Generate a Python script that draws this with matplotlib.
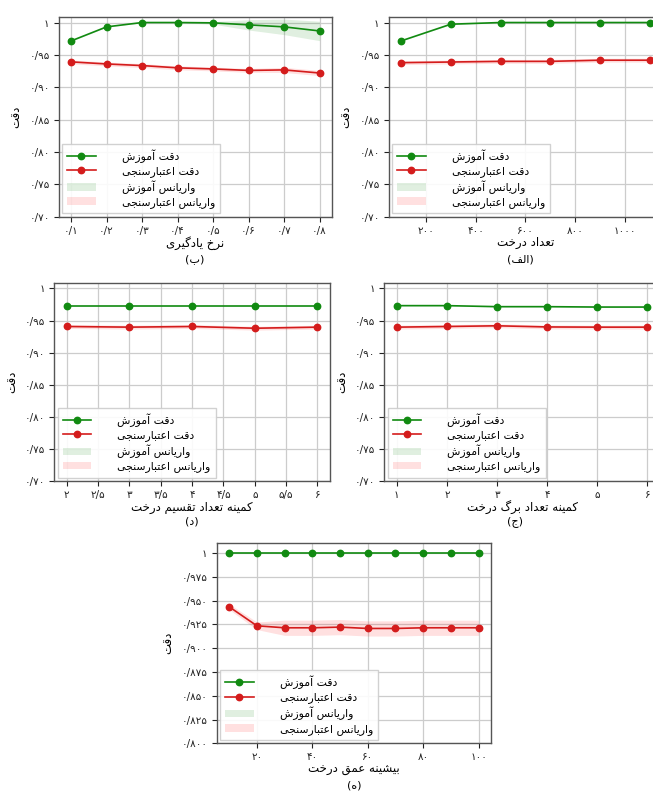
import matplotlib
matplotlib.use("Agg")
import matplotlib.pyplot as plt
from matplotlib.ticker import FixedLocator, FuncFormatter
from matplotlib.patches import Patch
from matplotlib.lines import Line2D

# ---------------- data ----------------
# (ب) learning rate
lr_x = [0.1, 0.2, 0.3, 0.4, 0.5, 0.6, 0.7, 0.8]
lr_train = [0.9716, 0.9933, 1.0, 1.0, 0.9995, 0.9964, 0.9933, 0.987]
lr_train_std = [0.0005, 0.0005, 0.0002, 0.0002, 0.002, 0.008, 0.012, 0.015]
lr_val = [0.9392, 0.936, 0.9335, 0.930, 0.9283, 0.926, 0.9268, 0.922]
lr_val_std = [0.003, 0.003, 0.003, 0.003, 0.003, 0.003, 0.004, 0.004]
lr_xticks = [0.1, 0.2, 0.3, 0.4, 0.5, 0.6, 0.7, 0.8]
lr_xticklabels = ["۰/۱", "۰/۲", "۰/۳", "۰/۴", "۰/۵", "۰/۶", "۰/۷", "۰/۸"]

# (الف) number of trees
nt_x = [100, 300, 500, 700, 900, 1100]
nt_train = [0.9716, 0.9974, 1.0, 1.0, 1.0, 1.0]
nt_train_std = [0.0005, 0.0005, 0.0002, 0.0002, 0.0002, 0.0002]
nt_val = [0.938, 0.939, 0.940, 0.940, 0.9418, 0.9418]
nt_val_std = [0.003, 0.003, 0.003, 0.003, 0.003, 0.003]
nt_xticks = [200, 400, 600, 800, 1000]
nt_xticklabels = ["۲۰۰", "۴۰۰", "۶۰۰", "۸۰۰", "۱۰۰۰"]

# (د) min samples split
ms_x = [2, 3, 4, 5, 6]
ms_train = [0.9727, 0.9727, 0.9727, 0.9727, 0.9727]
ms_train_std = [0.0005, 0.0005, 0.0005, 0.0005, 0.0005]
ms_val = [0.9407, 0.9397, 0.9407, 0.938, 0.9397]
ms_val_std = [0.003, 0.003, 0.003, 0.003, 0.003]
ms_xticks = [2, 2.5, 3, 3.5, 4, 4.5, 5, 5.5, 6]
ms_xticklabels = ["۲", "۲/۵", "۳", "۳/۵", "۴", "۴/۵", "۵", "۵/۵", "۶"]

# (ج) min samples leaf
ml_x = [1, 2, 3, 4, 5, 6]
ml_train = [0.9732, 0.9732, 0.9716, 0.9716, 0.971, 0.971]
ml_train_std = [0.0005, 0.0005, 0.0005, 0.0005, 0.0005, 0.0005]
ml_val = [0.9397, 0.9407, 0.9418, 0.940, 0.9397, 0.9397]
ml_val_std = [0.003, 0.003, 0.003, 0.003, 0.003, 0.003]
ml_xticks = [1, 2, 3, 4, 5, 6]
ml_xticklabels = ["۱", "۲", "۳", "۴", "۵", "۶"]

# (ه) max depth
md_x = [10, 20, 30, 40, 50, 60, 70, 80, 90, 100]
md_train = [1.0, 1.0, 1.0, 1.0, 1.0, 1.0, 1.0, 1.0, 1.0, 1.0]
md_train_std = [0.0002] * 10
md_val = [0.9436, 0.9236, 0.9215, 0.9215, 0.9222, 0.9208, 0.9208, 0.9215, 0.9215, 0.9215]
md_val_std = [0.003, 0.004, 0.008, 0.008, 0.008, 0.008, 0.008, 0.008, 0.008, 0.008]
md_xticks = [20, 40, 60, 80, 100]
md_xticklabels = ["۲۰", "۴۰", "۶۰", "۸۰", "۱۰۰"]

# texts
ylabel_text = "دقت"
legend_labels = ["دقت آموزش", "دقت اعتبارسنجی", "واریانس آموزش", "واریانس اعتبارسنجی"]
xlabels = {
    "lr": "نرخ یادگیری",
    "nt": "تعداد درخت",
    "ms": "کمینه تعداد تقسیم درخت",
    "ml": "کمینه تعداد برگ درخت",
    "md": "بیشینه عمق درخت",
}
captions = {"lr": "ب", "nt": "الف", "ms": "د", "ml": "ج", "md": "ه"}

# ---------------- Arabic-script shaping (presentation forms) ----------------
FORMS = {  # isolated, final, initial, medial
    "\u0627": ("\uFE8D", "\uFE8E", None, None),
    "\u0622": ("\uFE81", "\uFE82", None, None),
    "\u0628": ("\uFE8F", "\uFE90", "\uFE91", "\uFE92"),
    "\u062A": ("\uFE95", "\uFE96", "\uFE97", "\uFE98"),
    "\u062C": ("\uFE9D", "\uFE9E", "\uFE9F", "\uFEA0"),
    "\u062E": ("\uFEA5", "\uFEA6", "\uFEA7", "\uFEA8"),
    "\u062F": ("\uFEA9", "\uFEAA", None, None),
    "\u0631": ("\uFEAD", "\uFEAE", None, None),
    "\u0632": ("\uFEAF", "\uFEB0", None, None),
    "\u0633": ("\uFEB1", "\uFEB2", "\uFEB3", "\uFEB4"),
    "\u0634": ("\uFEB5", "\uFEB6", "\uFEB7", "\uFEB8"),
    "\u0639": ("\uFEC9", "\uFECA", "\uFECB", "\uFECC"),
    "\u0641": ("\uFED1", "\uFED2", "\uFED3", "\uFED4"),
    "\u0642": ("\uFED5", "\uFED6", "\uFED7", "\uFED8"),
    "\u0644": ("\uFEDD", "\uFEDE", "\uFEDF", "\uFEE0"),
    "\u0645": ("\uFEE1", "\uFEE2", "\uFEE3", "\uFEE4"),
    "\u0646": ("\uFEE5", "\uFEE6", "\uFEE7", "\uFEE8"),
    "\u0647": ("\uFEE9", "\uFEEA", "\uFEEB", "\uFEEC"),
    "\u0648": ("\uFEED", "\uFEEE", None, None),
    "\u06CC": ("\uFBFC", "\uFBFD", "\uFBFE", "\uFBFF"),
    "\u06A9": ("\uFB8E", "\uFB8F", "\uFB90", "\uFB91"),
    "\u06AF": ("\uFB92", "\uFB93", "\uFB94", "\uFB95"),
}


def dual(c):
    return c in FORMS and FORMS[c][2] is not None


def joins(c):
    return c in FORMS


def shape(text):
    out = []
    n = len(text)
    for i, c in enumerate(text):
        if c not in FORMS:
            out.append(c)
            continue
        prev_c = text[i - 1] if i > 0 else ""
        next_c = text[i + 1] if i + 1 < n else ""
        jp = dual(prev_c)
        jn = dual(c) and joins(next_c)
        iso, fin, ini, med = FORMS[c]
        if jp and jn:
            out.append(med)
        elif jp:
            out.append(fin)
        elif jn:
            out.append(ini)
        else:
            out.append(iso)
    return "".join(reversed(out))


def fa_num(v, nd):
    digits = "۰۱۲۳۴۵۶۷۸۹"
    if abs(v - 1.0) < 1e-9:
        return "۱"
    s = f"{v:.{nd}f}".replace(".", "/")
    return "".join(digits[int(ch)] if ch.isdigit() else ch for ch in s)


# ---------------- figure ----------------
plt.rcParams["font.family"] = ["DejaVu Sans"]
fig = plt.figure(figsize=(6.53, 7.92), dpi=100)
W, H = 653.0, 792.0


def add_axes(left, top, right, bottom):
    return fig.add_axes([left / W, 1 - bottom / H, (right - left) / W, (bottom - top) / H])


GREEN = "#118a11"
RED = "#d41c1c"
SPINE = "#555555"
MS = 4.6


def panel(ax, x, tr, trs, va, vas, xticks, xticklabels, yticks, ynd, ylim, key):
    tr_lo = [m - s for m, s in zip(tr, trs)]
    tr_hi = [m + s for m, s in zip(tr, trs)]
    va_lo = [m - s for m, s in zip(va, vas)]
    va_hi = [m + s for m, s in zip(va, vas)]
    ax.fill_between(x, tr_lo, tr_hi, color="green", alpha=0.12, linewidth=0)
    ax.fill_between(x, va_lo, va_hi, color="red", alpha=0.12, linewidth=0)
    ax.plot(x, tr, color=GREEN, marker="o", markersize=MS, linewidth=1.2, zorder=3)
    ax.plot(x, va, color=RED, marker="o", markersize=MS, linewidth=1.2, zorder=3)
    ax.set_ylim(*ylim)
    ax.xaxis.set_major_locator(FixedLocator(xticks))
    ax.set_xticklabels(xticklabels)
    ax.yaxis.set_major_locator(FixedLocator(yticks))
    ax.yaxis.set_major_formatter(FuncFormatter(lambda v, p: fa_num(v, ynd)))
    ax.grid(True, color="#cccccc", linewidth=0.9)
    ax.set_axisbelow(True)
    for s in ax.spines.values():
        s.set_color(SPINE)
        s.set_linewidth(1.0)
    ax.tick_params(axis="both", labelsize=7.5, colors="#222222", length=3.5, width=0.8, pad=3)
    ax.set_xlabel(shape(xlabels[key]), fontsize=8.5, labelpad=0.5)
    ax.set_ylabel(shape(ylabel_text), fontsize=8.5, labelpad=5)
    handles = [
        Line2D([], [], color=GREEN, marker="o", markersize=MS, linewidth=1.2),
        Line2D([], [], color=RED, marker="o", markersize=MS, linewidth=1.2),
        Patch(facecolor="green", alpha=0.12, edgecolor="none"),
        Patch(facecolor="red", alpha=0.12, edgecolor="none"),
    ]
    ax.legend(handles, [shape(t) for t in legend_labels], loc="lower left",
              fontsize=7.8, handlelength=2.6, borderaxespad=0.3,
              labelspacing=0.3, handletextpad=2.4, framealpha=0.9,
              edgecolor="#cccccc", fancybox=False, borderpad=0.5)


yt_main = [0.70, 0.75, 0.80, 0.85, 0.90, 0.95, 1.0]
yt_md = [0.800, 0.825, 0.850, 0.875, 0.900, 0.925, 0.950, 0.975, 1.0]

ax1 = add_axes(58.7, 16.7, 332, 216.7)
panel(ax1, lr_x, lr_train, lr_train_std, lr_val, lr_val_std, lr_xticks, lr_xticklabels,
      yt_main, 2, (0.70, 1.009), "lr")
fig.text(195 / W, 1 - 259 / H, "(" + shape(captions["lr"]) + ")", ha="center", va="center", fontsize=8)

ax2 = add_axes(388.7, 16.7, 662, 216.7)
panel(ax2, nt_x, nt_train, nt_train_std, nt_val, nt_val_std, nt_xticks, nt_xticklabels,
      yt_main, 2, (0.70, 1.009), "nt")
fig.text(520 / W, 1 - 259 / H, "(" + shape(captions["nt"]) + ")", ha="center", va="center", fontsize=8)

ax3 = add_axes(54.3, 283.3, 330, 481)
panel(ax3, ms_x, ms_train, ms_train_std, ms_val, ms_val_std, ms_xticks, ms_xticklabels,
      yt_main, 2, (0.70, 1.008), "ms")
fig.text(192 / W, 1 - 522 / H, "(" + shape(captions["ms"]) + ")", ha="center", va="center", fontsize=8)

ax4 = add_axes(384.3, 283.3, 660, 481)
panel(ax4, ml_x, ml_train, ml_train_std, ml_val, ml_val_std, ml_xticks, ml_xticklabels,
      yt_main, 2, (0.70, 1.008), "ml")
fig.text(515 / W, 1 - 522 / H, "(" + shape(captions["ml"]) + ")", ha="center", va="center", fontsize=8)

ax5 = add_axes(216.7, 542.7, 491, 743.3)
panel(ax5, md_x, md_train, md_train_std, md_val, md_val_std, md_xticks, md_xticklabels,
      yt_md, 3, (0.80, 1.011), "md")
fig.text(354 / W, 1 - 786 / H, "(" + shape(captions["md"]) + ")", ha="center", va="center", fontsize=8)

fig.savefig("out.png", dpi=100)
